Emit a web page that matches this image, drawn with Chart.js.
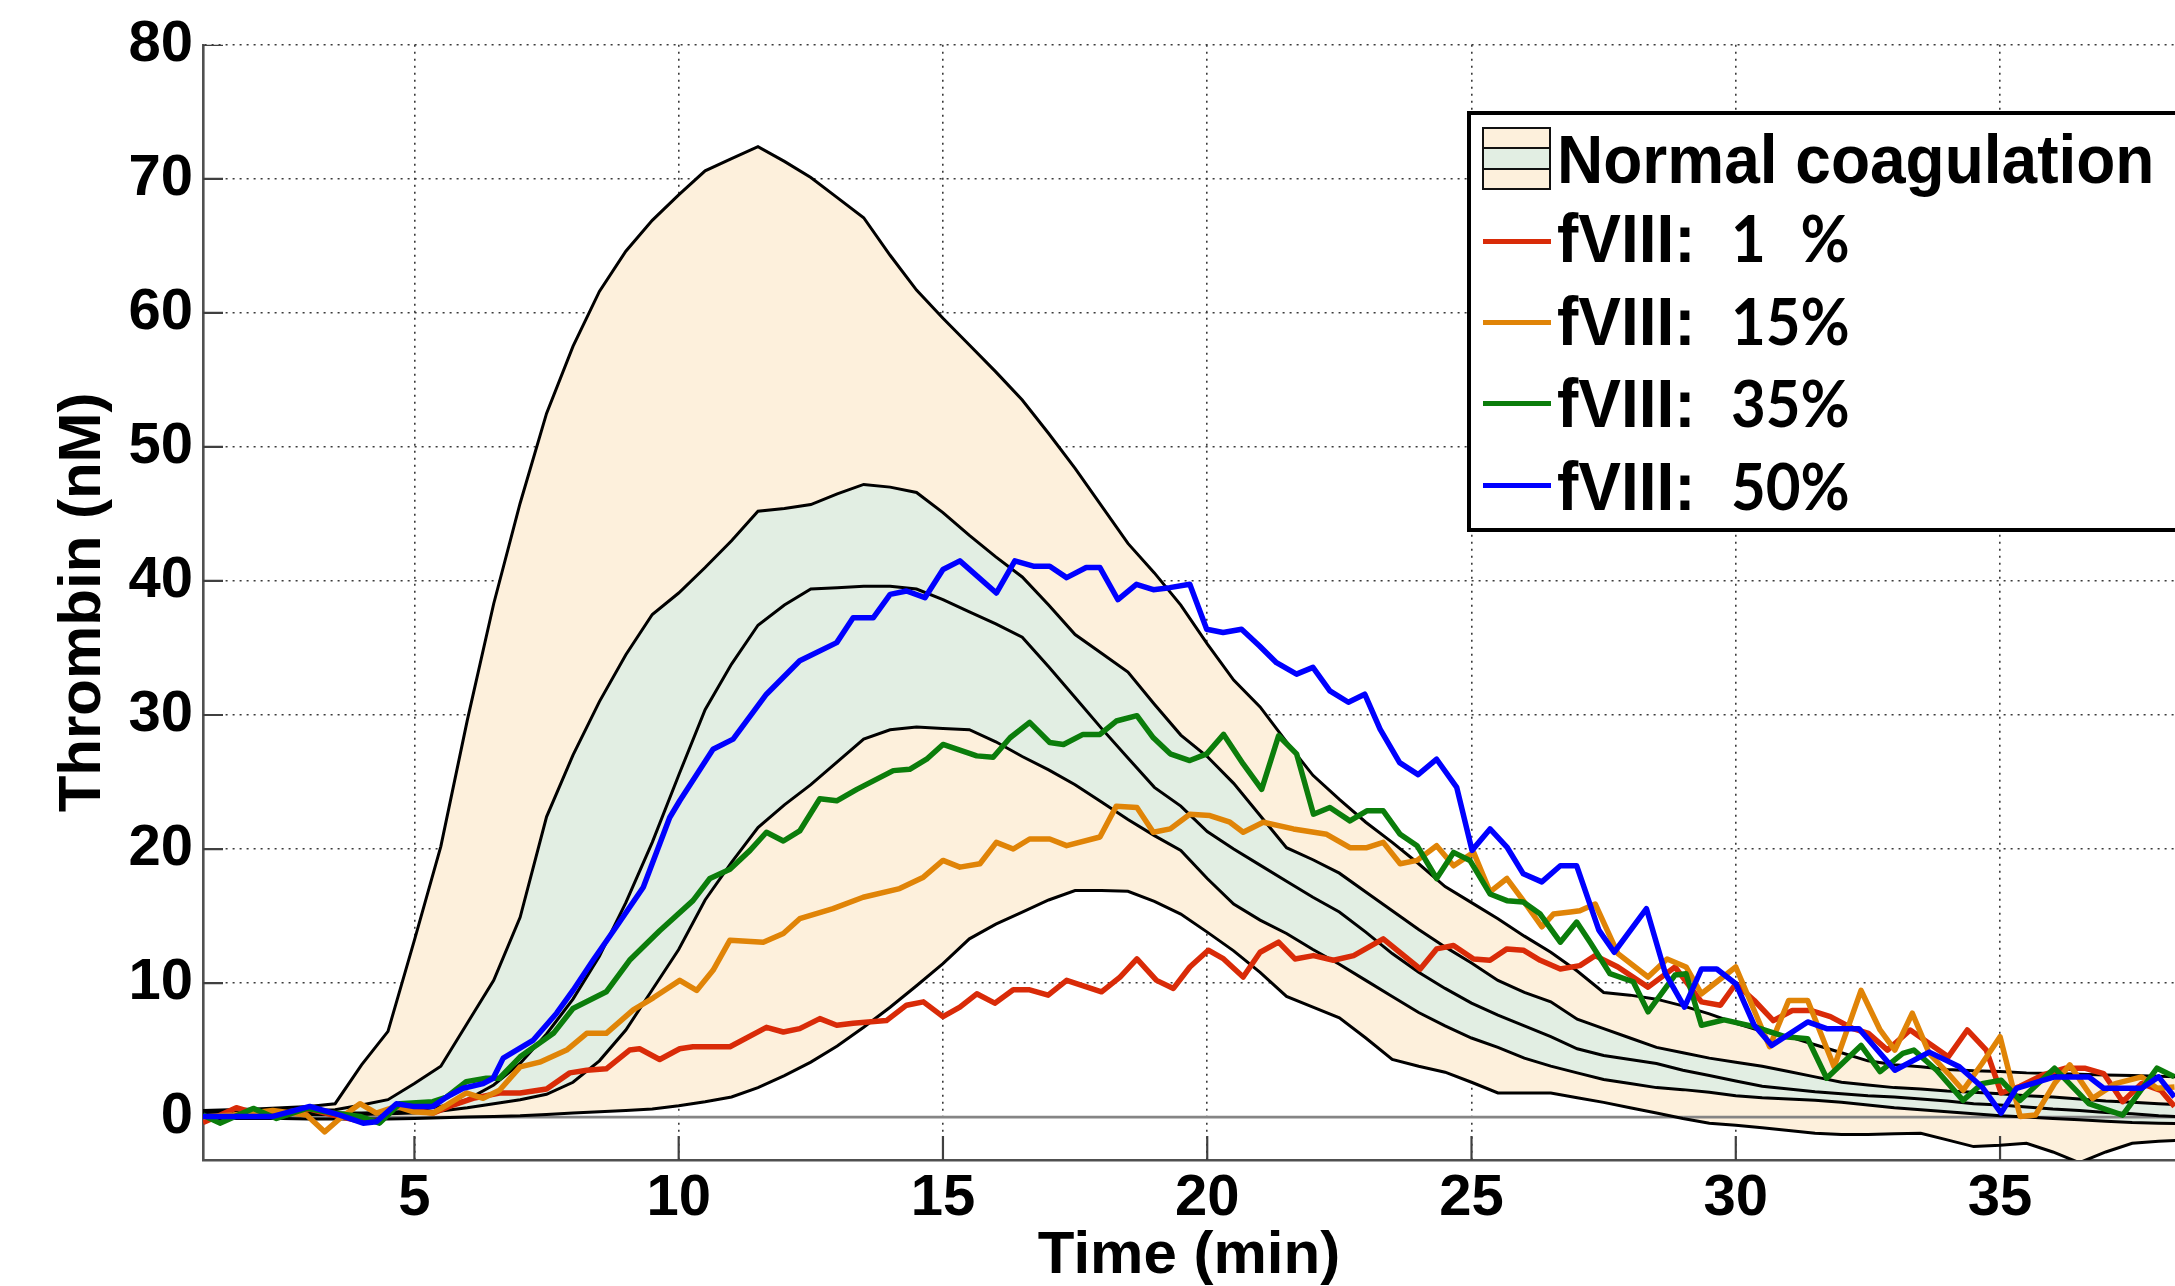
<!DOCTYPE html>
<html>
<head>
<meta charset="utf-8">
<script src="https://cdn.jsdelivr.net/npm/chart.js"></script>
<style>
html,body{margin:0;padding:0;background:#fff;overflow:hidden;}
#wrap{position:relative;width:2175px;height:1286px;overflow:hidden;}
#c{position:absolute;left:0;top:0;}
.lgbox{position:absolute;left:1467px;top:111px;width:800px;height:421px;box-sizing:border-box;border:4px solid #000;background:#fff;}
.patch{position:absolute;left:1482px;top:127px;width:69px;height:63px;box-sizing:border-box;border:2.5px solid #111;background:#fdf0dc;}
.patch .mid{position:absolute;left:0;right:0;top:18px;height:23px;box-sizing:border-box;border-top:2.5px solid #111;border-bottom:2.5px solid #111;background:#e2eee3;}
.row{position:absolute;left:1557px;height:80px;line-height:80px;font-family:"Liberation Sans",Arial,sans-serif;font-weight:bold;font-size:64px;color:#000;white-space:pre;transform:scaleY(1.08);transform-origin:0 62px;}
.row .f{display:inline-block;width:174px;}
.row .n{font-family:Lato,"Open Sans",sans-serif;font-weight:bold;font-size:60px;}
.ln{position:absolute;left:1483px;width:68px;height:5px;}
</style>
</head>
<body>
<div id="wrap">
<canvas id="c" width="2175" height="1286"></canvas>
<div class="lgbox"></div>
<div class="patch"><div class="mid"></div></div>
<div class="row" style="top:121px">Normal coagulation</div>
<div class="ln" style="top:239px;background:#d92b08"></div>
<div class="row" style="top:199px"><span class="f">fVIII:</span><span class="n">1&#8199;%</span></div>
<div class="ln" style="top:320px;background:#e08407"></div>
<div class="row" style="top:282px"><span class="f">fVIII:</span><span class="n">15%</span></div>
<div class="ln" style="top:401px;background:#0b7d0b"></div>
<div class="row" style="top:364px"><span class="f">fVIII:</span><span class="n">35%</span></div>
<div class="ln" style="top:483px;background:#0000ff"></div>
<div class="row" style="top:447px"><span class="f">fVIII:</span><span class="n">50%</span></div>
</div>
<script>
// ---- data ----
const minutes = [1,1.5,2,2.5,3,3.5,4,4.5,5,5.5,6,6.5,7,7.5,8,8.5,9,9.5,10,10.5,11,11.5,12,12.5,13,13.5,14,14.5,15,15.5,16,16.5,17,17.5,18,18.5,19,19.5,20,20.5,21,21.5,22,22.5,23,23.5,24,24.5,25,25.5,26,26.5,27,27.5,28,28.5,29,29.5,30,30.5,31,31.5,32,32.5,33,33.5,34,34.5,35,35.5,36,36.5,37,37.5,38,38.5];

const outerUpper = [0.5,0.55,0.6,0.7,0.8,1.0,3.9,6.4,13.2,20.2,
 29.6,38.3,45.8,52.5,57.5,61.6,64.6,66.9,68.8,70.6,
 71.5,72.4,71.3,70.1,68.6,67.1,64.3,61.7,59.6,57.6,
 55.6,53.5,51.0,48.4,45.6,42.8,40.6,38.2,35.3,32.6,
 30.6,28.0,25.5,23.7,22.0,20.5,18.9,17.2,16.0,14.8,
 13.5,12.3,10.9,9.3,9.1,8.8,8.3,7.7,7.0,6.4,
 6.0,5.4,4.8,4.2,3.9,3.75,3.55,3.45,3.4,3.3,
 3.25,3.2,3.15,3.1,3.05,3.0];

const innerUpper = [0.5,0.5,0.5,0.5,0.5,0.55,0.9,1.3,2.5,3.8,
 7.0,10.2,14.9,22.4,27.0,31.0,34.5,37.5,39.1,41.0,
 43.0,45.2,45.4,45.7,46.5,47.2,47.0,46.6,45.1,43.4,
 41.8,40.3,38.2,36.0,34.6,33.2,30.8,28.5,26.9,24.9,
 22.5,20.1,19.2,18.2,16.8,15.4,14.0,12.7,11.5,10.2,
 9.3,8.6,7.3,6.6,5.9,5.2,4.8,4.4,4.1,3.8,
 3.4,3.0,2.6,2.4,2.2,2.1,1.95,1.85,1.75,1.6,
 1.5,1.35,1.2,1.1,1.0,0.9];

const median = [0.3,0.3,0.3,0.3,0.3,0.3,0.3,0.35,0.5,0.8,
 1.3,2.4,4.0,6.2,8.8,12.0,16.0,20.5,25.5,30.4,
 33.8,36.7,38.2,39.4,39.5,39.6,39.6,39.4,38.6,37.7,
 36.8,35.8,33.6,31.3,29.0,26.8,24.6,23.2,21.3,20.0,
 18.8,17.6,16.4,15.3,13.8,12.2,10.8,9.6,8.5,7.6,
 6.8,6.0,5.1,4.6,4.3,4.0,3.5,3.1,2.7,2.3,
 2.1,1.9,1.75,1.6,1.5,1.35,1.2,1.0,0.9,0.75,
 0.6,0.5,0.35,0.25,0.1,0.0];

const innerLower = [0.2,0.2,0.2,0.2,0.2,0.2,0.2,0.25,0.3,0.45,
 0.7,1.0,1.3,1.7,2.6,4.2,6.5,9.5,12.5,16.2,
 19.0,21.6,23.3,24.8,26.5,28.2,28.9,29.1,29.0,28.9,
 28.0,26.9,25.9,24.8,23.5,22.2,21.0,19.9,17.8,15.9,
 14.7,13.7,12.5,11.4,10.2,9.0,7.8,6.8,5.9,5.2,
 4.4,3.8,3.3,2.8,2.5,2.2,2.05,1.85,1.6,1.45,
 1.35,1.25,1.1,0.9,0.7,0.55,0.4,0.25,0.1,0.0,
 -0.1,-0.2,-0.3,-0.4,-0.45,-0.5];

const outerLower = [-0.1,-0.1,-0.1,-0.1,-0.15,-0.15,-0.15,-0.15,-0.1,-0.05,
 0.0,0.05,0.1,0.2,0.3,0.4,0.5,0.6,0.85,1.15,
 1.5,2.2,3.1,4.1,5.3,6.7,8.2,9.8,11.45,13.3,
 14.4,15.3,16.2,16.9,16.9,16.85,16.1,15.15,13.8,12.4,
 10.8,9.0,8.2,7.4,5.9,4.3,3.8,3.35,2.6,1.8,
 1.8,1.8,1.45,1.1,0.7,0.3,-0.1,-0.45,-0.6,-0.8,
 -1.0,-1.2,-1.3,-1.3,-1.25,-1.2,-1.7,-2.2,-2.1,-1.95,
 -2.6,-3.4,-2.6,-1.95,-1.8,-1.7];

const f1Time = [1.0,1.3,1.63,1.88,2.3,2.6,3.02,3.46,3.97,4.34,4.66,4.97,5.35,5.73,6.11,6.61,7.0,7.5,7.94,8.26,8.63,9.07,9.26,9.64,10.02,10.27,10.97,11.66,11.98,12.29,12.67,12.99,13.3,13.93,14.31,14.63,15.0,15.32,15.64,15.98,16.33,16.64,16.99,17.34,18.0,18.35,18.67,19.04,19.36,19.67,20.02,20.31,20.68,21.0,21.35,21.66,22.01,22.39,22.77,23.33,24.03,24.34,24.66,25.04,25.35,25.67,25.98,26.3,26.68,27.05,27.34,27.77,28.34,28.85,29.35,29.71,30.0,30.35,30.71,31.07,31.43,31.79,32.22,32.51,32.87,33.3,33.66,34.02,34.38,34.74,35.02,35.38,35.81,36.24,36.6,36.96,37.32,37.68,38.04,38.3];
const f1Vals = [-0.4,0.1,0.7,0.4,0.1,0.2,0.6,0.15,-0.3,-0.3,0.9,0.5,0.3,0.9,1.4,1.8,1.8,2.1,3.3,3.5,3.6,5.0,5.1,4.3,5.1,5.25,5.25,6.7,6.35,6.6,7.35,6.85,7.0,7.2,8.35,8.6,7.5,8.2,9.2,8.5,9.5,9.5,9.1,10.2,9.35,10.45,11.8,10.2,9.6,11.2,12.45,11.8,10.45,12.3,13.05,11.8,12.05,11.7,12.05,13.3,11.05,12.55,12.8,11.8,11.7,12.55,12.45,11.7,11.05,11.3,12.05,11.2,9.7,11.2,8.6,8.35,9.95,8.7,7.2,7.95,7.95,7.5,6.6,6.25,5.0,6.5,5.5,4.5,6.5,5.0,1.8,2.3,3.15,3.65,3.65,3.25,1.15,2.5,2.0,0.8];

const f15Time = [1.0,1.57,2.32,2.96,3.3,3.59,3.97,4.28,4.66,4.97,5.35,5.61,5.98,6.3,6.61,7.0,7.37,7.88,8.26,8.63,9.14,9.52,10.02,10.34,10.65,10.97,11.6,11.98,12.29,12.92,13.49,14.18,14.63,15.0,15.32,15.7,16.01,16.33,16.64,17.02,17.34,17.97,18.28,18.67,18.98,19.3,19.67,20.05,20.43,20.68,21.06,21.63,22.26,22.7,23.02,23.33,23.65,23.97,24.34,24.66,25.04,25.35,25.67,25.98,26.33,26.55,26.87,27.05,27.34,27.77,28.34,28.7,29.06,29.35,30.0,30.64,31.0,31.36,31.86,32.37,32.73,33.01,33.34,33.66,34.02,34.3,34.66,35.0,35.38,35.67,36.03,36.32,36.75,37.18,37.68,37.97,38.3];
const f15Vals = [0.0,0.15,0.5,0.15,-1.1,-0.1,1.0,0.3,0.8,0.4,0.3,0.9,1.8,1.4,2.0,3.75,4.1,5.0,6.25,6.25,8.0,8.9,10.2,9.45,10.95,13.2,13.05,13.7,14.8,15.55,16.4,17.05,17.9,19.15,18.65,18.9,20.5,20.0,20.75,20.75,20.25,20.9,23.2,23.1,21.25,21.5,22.6,22.5,22.0,21.25,22.0,21.5,21.1,20.1,20.1,20.5,18.9,19.15,20.25,18.75,19.75,16.8,17.8,16.15,14.2,15.15,15.3,15.4,15.9,12.2,10.45,11.8,11.2,9.2,11.2,5.25,8.7,8.7,3.75,9.45,6.5,5.0,7.75,4.75,3.25,2.0,4.0,6.0,0.05,0.15,2.5,3.9,1.4,2.5,3.0,2.15,2.25];

const f35Time = [1.0,1.32,1.95,2.39,2.96,3.46,3.97,4.34,4.72,5.35,5.61,5.98,6.36,6.61,7.0,7.63,8.0,8.63,9.07,9.64,10.27,10.59,10.97,11.35,11.66,11.98,12.29,12.67,12.99,13.37,14.06,14.37,14.69,15.0,15.64,15.95,16.27,16.64,17.02,17.28,17.65,17.97,18.28,18.67,18.98,19.3,19.67,19.99,20.31,20.68,21.03,21.35,21.69,22.01,22.32,22.7,23.02,23.33,23.65,23.97,24.34,24.66,24.97,25.35,25.67,25.98,26.3,26.68,26.99,27.25,27.62,28.06,28.34,28.85,29.06,29.35,29.78,30.35,30.93,31.36,31.72,32.37,32.73,33.16,33.37,33.8,34.3,34.66,35.02,35.38,36.03,36.68,37.32,37.97,38.3];
const f35Vals = [0.15,-0.45,0.65,-0.1,0.65,0.3,0.05,-0.45,1.0,1.15,1.5,2.65,2.9,2.9,4.5,6.25,8.1,9.35,11.7,13.9,16.15,17.8,18.5,19.9,21.25,20.6,21.35,23.75,23.6,24.45,25.85,25.95,26.7,27.8,26.95,26.85,28.3,29.45,27.95,27.8,28.55,28.55,29.55,29.95,28.3,27.1,26.6,27.1,28.55,26.35,24.45,28.45,27.1,22.6,23.1,22.1,22.85,22.85,21.1,20.25,17.8,19.75,19.15,16.65,16.15,16.05,15.15,13.05,14.55,13.0,10.7,10.1,7.85,10.6,10.7,6.85,7.25,6.75,6.0,5.85,2.9,5.35,3.4,4.75,5.0,3.5,1.25,2.5,2.75,1.25,3.65,1.0,0.15,3.65,3.0];

const f50Time = [1.0,2.32,3.02,3.59,4.03,4.28,4.66,4.97,5.35,5.61,5.92,6.3,6.49,6.68,7.25,7.69,8.0,8.38,8.82,9.33,9.83,10.02,10.65,11.03,11.66,12.29,12.99,13.3,13.68,14.0,14.31,14.66,15.0,15.32,16.01,16.36,16.71,17.02,17.34,17.71,17.97,18.31,18.66,18.98,19.29,19.67,19.99,20.3,20.65,20.99,21.31,21.69,22.0,22.32,22.67,22.98,23.27,23.64,23.99,24.34,24.72,25.01,25.35,25.67,25.98,26.33,26.68,26.99,27.41,27.7,28.31,28.67,29.03,29.35,29.64,30.0,30.35,30.68,31.36,31.72,32.33,33.01,33.66,34.23,34.66,35.02,35.31,36.03,36.68,36.96,37.68,38.0,38.3];
const f50Vals = [0.05,0.05,0.8,0.15,-0.45,-0.35,1.0,0.8,0.8,1.5,2.15,2.5,2.9,4.4,5.75,7.75,9.45,11.7,14.2,17.15,22.35,23.6,27.45,28.2,31.55,34.05,35.4,37.25,37.25,39.0,39.25,38.75,40.85,41.5,39.1,41.5,41.1,41.1,40.25,41.0,41.0,38.6,39.75,39.35,39.5,39.75,36.4,36.15,36.4,35.15,33.9,33.05,33.55,31.8,30.95,31.55,28.95,26.45,25.55,26.7,24.6,19.9,21.5,20.15,18.15,17.55,18.75,18.75,13.95,12.3,15.55,10.7,8.2,11.05,11.05,9.95,6.85,5.35,7.1,6.6,6.6,3.5,4.85,3.75,2.25,0.3,2.15,3.0,3.0,2.15,2.15,3.0,1.5];

const xTicks = [5,10,15,20,25,30,35];
const yTicks = [0,10,20,30,40,50,60,70,80];
const seriesNames = ['fVIII: 50%','fVIII: 35%','fVIII: 15%','fVIII: 1 %'];

// ---- styling ----
const ORANGE_FILL = 'rgb(253,240,220)';
const GREEN_FILL = 'rgb(226,238,227)';
const FONT = '"Liberation Sans", Arial, sans-serif';

function pts(t, v){ return t.map((x,i)=>({x:x, y:v[i]})); }

const bandStyle = {borderColor:'#000', borderWidth:3, pointRadius:0, tension:0, order:1};
const curveStyle = {pointRadius:0, tension:0, borderWidth:5.5, order:0, fill:false, borderJoinStyle:'round'};

const datasets = [
  Object.assign({label:seriesNames[0], data:pts(f50Time,f50Vals), borderColor:'#0000ff'}, curveStyle),
  Object.assign({label:seriesNames[1], data:pts(f35Time,f35Vals), borderColor:'#0b7d0b'}, curveStyle),
  Object.assign({label:seriesNames[2], data:pts(f15Time,f15Vals), borderColor:'#e08407'}, curveStyle),
  Object.assign({label:seriesNames[3], data:pts(f1Time,f1Vals), borderColor:'#d92b08'}, curveStyle),
  Object.assign({label:'outer upper', data:pts(minutes,outerUpper), fill:5, backgroundColor:ORANGE_FILL}, bandStyle),
  Object.assign({label:'inner upper', data:pts(minutes,innerUpper), fill:7, backgroundColor:GREEN_FILL}, bandStyle),
  Object.assign({label:'median', data:pts(minutes,median), fill:false}, bandStyle),
  Object.assign({label:'inner lower', data:pts(minutes,innerLower), fill:8, backgroundColor:ORANGE_FILL}, bandStyle),
  Object.assign({label:'outer lower', data:pts(minutes,outerLower), fill:false}, bandStyle)
];

const refPlugin = {
  id: 'refLines',
  beforeDatasetsDraw(chart){
    const {ctx, chartArea:a, scales:{x, y}} = chart;
    ctx.save();
    ctx.beginPath(); ctx.rect(a.left, a.top, a.right-a.left, a.bottom-a.top); ctx.clip();
    const y0 = y.getPixelForValue(0);
    ctx.strokeStyle = '#858585'; ctx.lineWidth = 2.6;
    ctx.beginPath(); ctx.moveTo(a.left, y0); ctx.lineTo(a.right, y0); ctx.stroke();
    ctx.strokeStyle = '#404040'; ctx.lineWidth = 2.2;
    yTicks.forEach(v => { const p = y.getPixelForValue(v); ctx.beginPath(); ctx.moveTo(a.left, p); ctx.lineTo(a.left+20, p); ctx.stroke(); });
    xTicks.forEach(v => { const p = x.getPixelForValue(v); ctx.beginPath(); ctx.moveTo(p, a.bottom); ctx.lineTo(p, a.bottom-24); ctx.stroke(); });
    ctx.restore();
  }
};

new Chart(document.getElementById('c'), {
  type: 'line',
  data: { datasets: datasets },
  options: {
    responsive: false,
    animation: false,
    devicePixelRatio: 1,
    layout: { padding: { top: 44, right: 0, bottom: 0, left: 0 } },
    plugins: {
      legend: { display: false },
      tooltip: { enabled: false },
      filler: { drawTime: 'beforeDatasetsDraw' }
    },
    scales: {
      x: {
        type: 'linear', position: 'bottom', min: 1, max: 38.31,
        afterBuildTicks: s => { s.ticks = xTicks.map(v => ({value: v})); },
        afterFit: s => { s.height = 126; },
        ticks: { color: '#000', padding: 4, font: { family: FONT, size: 58, weight: 'bold' } },
        grid: { color: '#3a3a3a', lineWidth: 1.6, drawTicks: false },
        border: { display: true, color: '#505050', width: 2.6, dash: [2, 5] },
        title: { display: true, text: 'Time (min)', color: '#000', padding: { top: 0, bottom: 0 },
                 font: { family: FONT, size: 60, weight: 'bold', lineHeight: 1 } }
      },
      y: {
        type: 'linear', position: 'left', min: -3.2, max: 80,
        afterBuildTicks: s => { s.ticks = yTicks.map(v => ({value: v})); },
        afterFit: s => { s.width = 203; },
        ticks: { color: '#000', padding: 10, font: { family: FONT, size: 58, weight: 'bold' } },
        grid: { color: c => (c.tick && c.tick.value === 0) ? 'rgba(0,0,0,0)' : '#3a3a3a', lineWidth: 1.6, drawTicks: false },
        border: { display: true, color: '#505050', width: 2.6, dash: [2, 5] },
        title: { display: true, text: 'Thrombin (nM)', color: '#000', padding: { top: 53, bottom: 0 },
                 font: { family: FONT, size: 60, weight: 'bold', lineHeight: 1 } }
      }
    }
  },
  plugins: [refPlugin]
});
</script>
</body>
</html>
